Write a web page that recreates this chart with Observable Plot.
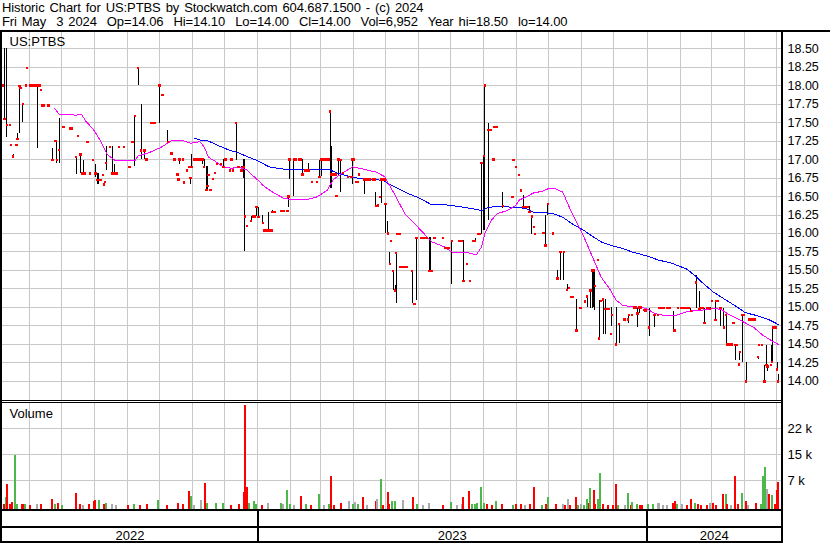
<!DOCTYPE html>
<html><head><meta charset="utf-8">
<script src="https://cdn.jsdelivr.net/npm/d3@7"></script>
<script src="https://cdn.jsdelivr.net/npm/@observablehq/plot@0.6"></script>
<style>
html,body{margin:0;padding:0;background:#fff;}
#chart{position:relative;width:830px;height:543px;overflow:hidden;font-family:"Liberation Sans",Arial,sans-serif;color:#000;background:#fff;}
.hdr{position:absolute;left:2px;font-size:13px;line-height:14px;white-space:pre;letter-spacing:-0.1px;word-spacing:1.5px;}
.ln{position:absolute;background:#000;}
.pnl{position:absolute;left:0;}
</style></head><body><div id="chart"></div>
<script>
// ---------- DATA ----------
const headerLine1 = "Historic Chart for US:PTBS by Stockwatch.com 604.687.1500 - (c) 2024";
const headerLine2 = "Fri May  3 2024  Op=14.06  Hi=14.10  Lo=14.00  Cl=14.00  Vol=6,952  Year hi=18.50  lo=14.00";
const symbolLabel = "US:PTBS";
const volumeLabel = "Volume";
const yearLabels = ["2022", "2023", "2024"];
const priceTicks = [14.00,14.25,14.50,14.75,15.00,15.25,15.50,15.75,16.00,16.25,16.50,16.75,17.00,17.25,17.50,17.75,18.00,18.25,18.50];
const volumeTicks = [7400, 14800, 22200];

// [date, high, low, close]
const prices2022 = [
["2022-05-07",18.00,18.00,18.00],["2022-05-09",18.50,17.55,17.55],["2022-05-11",18.50,17.30,17.47],
["2022-05-14",17.47,17.47,17.47],["2022-05-15",17.20,17.20,17.20],["2022-05-17",17.07,17.04,17.04],
["2022-05-20",17.20,17.20,17.20],["2022-05-21",17.35,17.28,17.28],["2022-05-23",17.99,17.35,17.99],
["2022-05-24",17.97,17.97,17.97],["2022-05-26",17.75,17.50,17.75],["2022-05-29",18.00,18.00,18.00],
["2022-05-30",18.24,18.24,18.24],["2022-06-02",18.00,18.00,18.00],["2022-06-04",18.00,18.00,18.00],
["2022-06-06",18.00,18.00,18.00],["2022-06-08",18.00,18.00,18.00],["2022-06-09",18.00,17.15,18.00],
["2022-06-10",18.00,18.00,18.00],["2022-06-11",18.00,18.00,18.00],["2022-06-12",17.94,17.94,17.94],
["2022-06-13",17.73,17.73,17.73],["2022-06-15",17.73,17.73,17.73],["2022-06-19",17.73,17.73,17.73],
["2022-06-23",17.15,16.99,16.99],["2022-06-25",17.25,17.25,17.25],["2022-06-26",17.25,17.25,17.25],
["2022-06-27",17.25,16.95,16.99],["2022-06-29",17.56,16.95,17.13],["2022-07-03",17.44,17.44,17.44],
["2022-07-09",17.42,17.42,17.42],["2022-07-11",17.42,17.42,17.42],["2022-07-15",17.03,16.80,17.03],
["2022-07-17",17.32,17.32,17.32],["2022-07-19",17.07,16.81,17.07],["2022-07-21",16.81,16.81,16.81],
["2022-07-22",16.99,16.81,16.81],["2022-07-23",16.81,16.81,16.81],["2022-07-25",17.24,17.24,17.24],
["2022-07-26",17.24,17.24,17.24],["2022-07-28",16.81,16.81,16.81],["2022-07-31",16.99,16.99,16.99],
["2022-08-02",16.93,16.76,16.81],["2022-08-04",16.81,16.66,16.72],["2022-08-05",16.81,16.66,16.72],
["2022-08-07",16.72,16.72,16.72],["2022-08-09",16.79,16.79,16.79],["2022-08-10",16.66,16.66,16.66],
["2022-08-11",16.70,16.70,16.70],["2022-08-12",17.17,16.85,16.95],["2022-08-16",17.17,17.17,17.17],
["2022-08-18",17.17,16.81,16.81],["2022-08-20",16.93,16.81,16.81],["2022-08-22",16.81,16.81,16.81],
["2022-08-24",17.17,17.17,17.17],["2022-08-29",17.17,17.17,17.17],["2022-09-03",16.90,16.90,16.90],
["2022-09-06",17.24,17.24,17.24],["2022-09-08",17.59,16.90,17.59],["2022-09-11",18.24,18.00,18.24],
["2022-09-14",17.75,17.00,17.12],["2022-09-17",17.12,17.00,17.12],["2022-09-19",17.00,17.00,17.00],
["2022-09-23",17.49,17.49,17.49],["2022-09-25",17.49,17.49,17.49],["2022-09-27",17.49,17.49,17.49],
["2022-10-01",18.00,17.49,18.00],["2022-10-04",17.87,17.87,17.87],["2022-10-09",17.39,17.24,17.24],
["2022-10-12",17.08,17.08,17.08],["2022-10-13",17.08,17.08,17.08],["2022-10-15",17.00,17.00,17.00],
["2022-10-18",16.80,16.80,16.80],["2022-10-19",16.73,16.73,16.73],["2022-10-20",17.00,16.93,17.00],
["2022-10-23",17.00,17.00,17.00],["2022-10-24",16.70,16.66,16.69],["2022-10-27",16.85,16.85,16.85],
["2022-10-29",16.90,16.90,16.90],["2022-10-30",16.75,16.66,16.75],["2022-10-31",17.07,16.90,16.90],
["2022-11-03",17.00,17.00,17.00],["2022-11-05",17.00,17.00,17.00],["2022-11-07",17.00,17.00,17.00],
["2022-11-09",17.00,17.00,17.00],["2022-11-10",17.00,16.93,17.00],["2022-11-11",17.00,17.00,17.00],
["2022-11-12",17.00,16.90,16.90],["2022-11-14",16.90,16.59,16.59],["2022-11-15",16.90,16.59,16.64],
["2022-11-16",16.79,16.79,16.79],["2022-11-18",16.59,16.59,16.59],["2022-11-20",16.74,16.74,16.74],
["2022-11-22",16.82,16.82,16.82],["2022-11-24",16.94,16.94,16.94],["2022-11-28",16.94,16.94,16.94],
["2022-11-30",17.00,16.90,16.90],["2022-12-02",17.00,17.00,17.00],["2022-12-06",16.85,16.85,16.85],
["2022-12-07",17.00,17.00,17.00],["2022-12-08",17.00,17.00,17.00],["2022-12-09",16.85,16.85,16.85],
["2022-12-12",17.49,16.99,17.49],["2022-12-14",16.90,16.90,16.90],["2022-12-17",16.90,16.85,16.85],
["2022-12-19",17.00,16.75,16.90],["2022-12-20",17.00,15.75,16.23],["2022-12-22",16.10,16.10,16.10],
["2022-12-26",16.23,16.17,16.17],["2022-12-28",16.23,16.23,16.23],["2022-12-29",16.23,16.23,16.23],
["2022-12-31",16.36,16.23,16.36]
];
const prices2023 = [
["2023-01-02",16.35,16.22,16.22],["2023-01-06",16.25,16.14,16.14],["2023-01-07",16.04,16.04,16.04],
["2023-01-09",16.04,16.04,16.04],["2023-01-11",16.29,16.04,16.04],["2023-01-13",16.04,16.04,16.04],
["2023-01-14",16.04,16.04,16.04],["2023-01-15",16.31,16.29,16.29],["2023-01-17",16.29,16.29,16.29],
["2023-01-23",16.30,16.30,16.30],["2023-01-25",16.30,16.30,16.30],["2023-01-26",16.30,16.30,16.30],
["2023-01-29",16.30,16.30,16.30],["2023-01-30",16.50,16.35,16.50],["2023-01-31",17.00,16.73,17.00],
["2023-02-04",17.00,16.50,17.00],["2023-02-06",17.00,17.00,17.00],["2023-02-09",17.00,17.00,17.00],
["2023-02-11",17.00,17.00,17.00],["2023-02-12",17.00,16.80,16.80],["2023-02-15",16.85,16.85,16.85],
["2023-02-17",16.85,16.85,16.85],["2023-02-18",16.95,16.85,16.85],["2023-02-21",16.70,16.70,16.70],
["2023-02-26",16.70,16.70,16.70],["2023-02-28",16.99,16.76,16.76],["2023-03-02",17.00,16.77,17.00],
["2023-03-03",17.00,17.00,17.00],["2023-03-05",17.00,17.00,17.00],["2023-03-07",17.00,17.00,17.00],
["2023-03-09",17.00,17.00,17.00],["2023-03-10",17.65,16.61,17.65],["2023-03-11",17.18,16.61,16.80],
["2023-03-13",16.80,16.80,16.80],["2023-03-15",16.80,16.80,16.80],["2023-03-16",16.51,16.51,16.51],
["2023-03-18",17.00,16.79,17.00],["2023-03-20",17.00,16.55,16.99],["2023-03-22",16.82,16.82,16.82],
["2023-03-27",16.76,16.76,16.76],["2023-03-30",16.76,16.76,16.76],["2023-03-31",17.00,16.66,17.00],
["2023-04-01",17.00,17.00,17.00],["2023-04-03",16.70,16.70,16.70],["2023-04-05",16.70,16.70,16.70],
["2023-04-06",16.80,16.80,16.80],["2023-04-11",16.73,16.53,16.73],["2023-04-12",16.73,16.73,16.73],
["2023-04-14",16.73,16.73,16.73],["2023-04-16",16.73,16.73,16.73],["2023-04-19",16.73,16.73,16.73],
["2023-04-21",16.73,16.73,16.73],["2023-04-22",16.56,16.37,16.37],["2023-04-24",16.38,16.38,16.38],
["2023-04-26",16.49,16.49,16.49],["2023-04-27",16.73,16.40,16.73],["2023-04-30",16.73,16.73,16.73],
["2023-05-01",16.40,16.00,16.40],["2023-05-03",16.16,16.00,16.00],["2023-05-05",15.74,15.59,15.59],
["2023-05-06",15.90,15.90,15.90],["2023-05-08",15.49,15.23,15.49],["2023-05-10",15.30,15.23,15.23],
["2023-05-11",15.74,15.05,15.74],["2023-05-12",15.99,15.99,15.99],["2023-05-14",15.99,15.99,15.99],
["2023-05-15",15.55,15.55,15.55],["2023-05-17",15.55,15.55,15.55],["2023-05-19",15.55,15.55,15.55],
["2023-05-21",15.55,15.55,15.55],["2023-05-26",15.49,15.05,15.49],["2023-05-28",15.05,15.05,15.05],
["2023-05-30",15.94,15.10,15.94],["2023-06-03",15.94,15.94,15.94],["2023-06-05",15.94,15.94,15.94],
["2023-06-07",15.94,15.94,15.94],["2023-06-09",15.94,15.94,15.94],["2023-06-11",15.94,15.49,15.49],
["2023-06-12",15.94,15.49,15.49],["2023-06-13",15.49,15.49,15.49],["2023-06-16",15.94,15.94,15.94],
["2023-06-24",15.94,15.94,15.94],["2023-06-26",15.80,15.80,15.80],["2023-06-29",15.80,15.80,15.80],
["2023-07-02",15.90,15.31,15.90],["2023-07-09",15.90,15.90,15.90],["2023-07-11",15.90,15.90,15.90],
["2023-07-13",15.90,15.36,15.36],["2023-07-16",15.59,15.59,15.59],["2023-07-19",15.36,15.36,15.36],
["2023-07-22",15.90,15.90,15.90],["2023-07-24",15.93,15.90,15.90],["2023-07-27",15.99,15.99,15.99],
["2023-07-28",15.99,15.99,15.99],["2023-07-30",16.95,15.99,16.95],["2023-08-01",17.05,16.04,17.05],
["2023-08-02",18.00,16.04,18.00],["2023-08-05",17.49,16.17,17.40],["2023-08-06",17.40,17.40,17.40],
["2023-08-08",17.40,17.40,17.40],["2023-08-10",17.00,17.00,17.00],["2023-08-11",17.44,17.44,17.44],
["2023-08-13",17.44,17.44,17.44],["2023-08-19",16.56,16.34,16.37],["2023-08-28",16.49,16.49,16.49],
["2023-08-29",16.99,16.99,16.99],["2023-08-31",16.90,16.90,16.90],["2023-09-03",16.79,16.79,16.79],
["2023-09-05",16.58,16.58,16.58],["2023-09-07",16.52,16.36,16.36],["2023-09-09",16.36,16.36,16.36],
["2023-09-11",16.36,16.36,16.36],["2023-09-13",16.36,16.29,16.29],["2023-09-15",16.23,15.99,16.23],
["2023-09-17",16.09,16.09,16.09],["2023-09-18",15.99,15.99,15.99],["2023-09-26",16.01,16.01,16.01],
["2023-09-28",16.25,15.84,15.84],["2023-09-30",16.40,16.25,16.40],["2023-10-05",16.00,16.00,16.00],
["2023-10-09",15.50,15.39,15.39],["2023-10-12",15.75,15.36,15.75],["2023-10-15",15.75,15.36,15.75],
["2023-10-18",15.31,15.24,15.24],["2023-10-20",15.26,15.26,15.26],["2023-10-22",15.14,15.14,15.14],
["2023-10-23",15.14,15.14,15.14],["2023-10-27",15.11,14.69,14.69],["2023-10-30",14.99,14.99,14.99],
["2023-10-31",14.99,14.99,14.99],["2023-11-04",15.08,15.08,15.08],["2023-11-06",15.15,15.00,15.15],
["2023-11-09",15.23,14.99,15.23],["2023-11-11",15.50,14.98,15.50],["2023-11-12",15.50,15.00,15.50],
["2023-11-13",15.50,14.96,15.29],["2023-11-16",15.64,15.64,15.64],["2023-11-17",15.10,14.58,14.58],
["2023-11-19",15.09,15.09,15.09],["2023-11-21",15.11,14.64,15.11],["2023-11-23",15.11,14.64,14.98],
["2023-11-26",14.98,14.98,14.98],["2023-11-28",14.64,14.64,14.64],["2023-11-29",15.00,14.74,14.90],
["2023-12-03",15.00,14.50,14.50],["2023-12-06",14.78,14.51,14.78],["2023-12-11",14.84,14.84,14.84],
["2023-12-14",14.84,14.84,14.84],["2023-12-15",14.90,14.78,14.90],["2023-12-18",14.90,14.90,14.90],
["2023-12-20",15.00,15.00,15.00],["2023-12-21",15.00,15.00,15.00],["2023-12-23",15.00,14.73,14.92],
["2023-12-25",15.00,14.92,15.00],["2023-12-26",15.00,15.00,15.00],["2023-12-29",14.97,14.97,14.97],
["2023-12-30",14.96,14.96,14.96],["2023-12-31",14.96,14.96,14.96]
];
const prices2024 = [
["2024-01-03",14.99,14.61,14.73],["2024-01-08",14.90,14.73,14.90],["2024-01-11",14.90,14.90,14.90],
["2024-01-12",14.99,14.99,14.99],["2024-01-14",14.99,14.99,14.99],["2024-01-15",14.99,14.99,14.99],
["2024-01-17",14.99,14.99,14.99],["2024-01-20",14.99,14.99,14.99],["2024-01-22",14.99,14.99,14.99],
["2024-01-26",14.95,14.69,14.69],["2024-01-27",14.69,14.69,14.69],["2024-01-30",14.99,14.99,14.99],
["2024-02-02",14.99,14.99,14.99],["2024-02-04",14.99,14.99,14.99],["2024-02-06",14.99,14.99,14.99],
["2024-02-09",14.99,14.99,14.99],["2024-02-11",14.98,14.95,14.95],["2024-02-16",15.43,14.98,15.34],
["2024-02-19",15.21,14.98,14.98],["2024-02-20",14.99,14.99,14.99],["2024-02-22",14.99,14.99,14.99],
["2024-02-24",14.99,14.79,14.79],["2024-02-26",14.99,14.99,14.99],["2024-02-28",14.99,14.99,14.99],
["2024-02-29",15.00,14.98,14.98],["2024-03-02",15.09,15.09,15.09],["2024-03-05",15.09,14.83,14.83],
["2024-03-06",15.09,15.09,15.09],["2024-03-07",15.09,15.09,15.09],["2024-03-10",14.99,14.74,14.99],
["2024-03-13",14.99,14.73,14.73],["2024-03-15",14.90,14.50,14.90],["2024-03-16",14.50,14.50,14.50],
["2024-03-18",14.50,14.50,14.50],["2024-03-20",14.50,14.50,14.50],["2024-03-22",14.79,14.79,14.79],
["2024-03-24",14.49,14.28,14.49],["2024-03-25",14.49,14.49,14.49],["2024-03-27",14.23,14.23,14.23],
["2024-03-28",14.40,14.28,14.40],["2024-03-30",14.90,14.26,14.90],["2024-04-01",14.90,14.90,14.90],
["2024-04-03",14.26,14.00,14.00],["2024-04-06",14.84,14.84,14.84],["2024-04-08",14.84,14.84,14.84],
["2024-04-09",14.84,14.84,14.84],["2024-04-11",14.84,14.84,14.84],["2024-04-14",14.33,14.30,14.33],
["2024-04-15",14.49,14.49,14.49],["2024-04-18",14.49,14.49,14.49],["2024-04-20",14.22,14.00,14.00],
["2024-04-22",14.49,14.22,14.22],["2024-04-23",14.22,14.13,14.20],["2024-04-26",14.22,14.22,14.22],
["2024-04-27",14.49,14.26,14.26],["2024-04-28",14.73,14.26,14.73],["2024-04-29",14.73,14.73,14.73],
["2024-04-30",14.73,14.73,14.73],["2024-05-01",14.73,14.73,14.73],["2024-05-02",14.26,14.16,14.16],
["2024-05-03",14.10,14.00,14.00]
];

// short moving average (magenta) [date, value]
const maShort = [
["2022-06-25",17.69],["2022-06-29",17.61],["2022-07-15",17.60],["2022-07-20",17.61],["2022-07-24",17.52],
["2022-07-31",17.41],["2022-08-07",17.25],["2022-08-13",17.07],["2022-08-21",16.98],["2022-09-02",16.98],
["2022-09-08",16.98],["2022-09-11",17.05],["2022-09-21",17.09],["2022-10-02",17.16],["2022-10-12",17.25],
["2022-10-22",17.26],["2022-10-30",17.22],["2022-11-08",17.24],["2022-11-12",17.17],["2022-11-16",17.03],
["2022-11-23",16.97],["2022-11-30",16.90],["2022-12-08",16.88],["2022-12-14",16.90],["2022-12-22",16.86],
["2022-12-27",16.79],["2023-01-03",16.70],["2023-01-06",16.65],["2023-01-15",16.56],["2023-01-25",16.48],
["2023-01-31",16.46],["2023-02-16",16.46],["2023-02-25",16.49],["2023-03-07",16.58],["2023-03-13",16.73],
["2023-03-22",16.82],["2023-03-31",16.90],["2023-04-10",16.87],["2023-04-22",16.83],["2023-04-30",16.77],
["2023-05-09",16.54],["2023-05-19",16.27],["2023-05-31",16.09],["2023-06-13",15.89],["2023-06-25",15.82],
["2023-07-02",15.75],["2023-07-17",15.74],["2023-07-25",15.71],["2023-07-30",15.82],["2023-08-02",16.00],
["2023-08-08",16.18],["2023-08-14",16.27],["2023-08-23",16.31],["2023-08-31",16.38],["2023-09-03",16.45],
["2023-09-09",16.49],["2023-09-17",16.55],["2023-09-25",16.57],["2023-10-01",16.61],["2023-10-06",16.61],
["2023-10-14",16.56],["2023-10-20",16.36],["2023-10-26",16.18],["2023-11-03",15.95],["2023-11-11",15.68],
["2023-11-19",15.41],["2023-11-27",15.25],["2023-12-03",15.10],["2023-12-09",15.03],["2023-12-18",15.01],
["2023-12-31",14.99],["2024-01-08",14.92],["2024-01-18",14.89],["2024-01-27",14.89],["2024-02-07",14.94],
["2024-02-16",14.96],["2024-02-26",14.97],["2024-03-03",14.99],["2024-03-11",14.97],["2024-03-17",14.91],
["2024-03-28",14.83],["2024-04-10",14.73],["2024-04-19",14.62],["2024-04-27",14.55],["2024-05-03",14.50]
];
// long moving average (blue) [date, value]
const maLong = [
["2022-11-03",17.29],["2022-11-09",17.26],["2022-11-16",17.25],["2022-11-25",17.19],["2022-12-05",17.13],
["2022-12-14",17.09],["2022-12-24",17.03],["2022-12-31",16.99],["2023-01-12",16.90],["2023-01-21",16.88],
["2023-01-31",16.86],["2023-02-16",16.87],["2023-02-28",16.86],["2023-03-10",16.86],["2023-03-16",16.82],
["2023-03-28",16.77],["2023-04-04",16.75],["2023-04-16",16.73],["2023-04-28",16.72],["2023-05-12",16.61],
["2023-05-22",16.54],["2023-05-31",16.49],["2023-06-13",16.39],["2023-06-25",16.39],["2023-07-11",16.36],
["2023-07-23",16.33],["2023-07-30",16.31],["2023-08-05",16.35],["2023-08-14",16.37],["2023-08-23",16.36],
["2023-09-01",16.35],["2023-09-09",16.34],["2023-09-16",16.29],["2023-09-27",16.28],["2023-10-05",16.27],
["2023-10-14",16.22],["2023-10-23",16.13],["2023-11-02",16.05],["2023-11-11",15.96],["2023-11-20",15.88],
["2023-11-30",15.83],["2023-12-09",15.80],["2023-12-18",15.75],["2023-12-31",15.70],["2024-01-12",15.64],
["2024-01-24",15.60],["2024-02-07",15.52],["2024-02-15",15.43],["2024-02-23",15.32],["2024-03-03",15.21],
["2024-03-15",15.10],["2024-03-25",15.01],["2024-04-02",14.93],["2024-04-13",14.89],["2024-04-25",14.83],
["2024-05-03",14.77]
];

// [date, shares, direction]
const volume2022 = [
["2022-05-08",500,"down"],["2022-05-10",2600,"up"],["2022-05-11",6300,"down"],["2022-05-14",500,"down"],
["2022-05-16",1100,"down"],["2022-05-19",14600,"up"],["2022-05-21",400,"up"],["2022-05-25",400,"down"],
["2022-05-26",600,"down"],["2022-05-28",600,"up"],["2022-06-02",200,"down"],["2022-06-08",600,"flat"],
["2022-06-12",400,"down"],["2022-06-22",2000,"down"],["2022-06-25",400,"up"],["2022-06-28",800,"down"],
["2022-07-02",200,"up"],["2022-07-15",3600,"down"],["2022-07-19",600,"down"],["2022-07-21",200,"flat"],
["2022-07-27",500,"down"],["2022-08-01",1500,"down"],["2022-08-02",1600,"down"],["2022-08-05",1600,"up"],
["2022-08-10",400,"down"],["2022-08-12",800,"up"],["2022-08-18",400,"flat"],["2022-08-21",200,"flat"],
["2022-09-02",200,"down"],["2022-09-07",400,"up"],["2022-09-13",200,"down"],["2022-09-19",600,"down"],
["2022-09-30",1600,"up"],["2022-10-08",200,"down"],["2022-10-18",700,"down"],["2022-10-23",400,"down"],
["2022-10-29",4300,"down"],["2022-10-31",2700,"up"],["2022-11-02",200,"flat"],["2022-11-09",1600,"flat"],
["2022-11-13",6500,"down"],["2022-11-15",700,"up"],["2022-11-23",800,"up"],["2022-11-30",800,"up"],
["2022-12-07",200,"down"],["2022-12-15",400,"down"],["2022-12-19",4100,"down"],["2022-12-20",28900,"down"],
["2022-12-22",5300,"down"],["2022-12-24",800,"up"],["2022-12-29",1300,"up"],["2022-12-31",600,"up"]
];
const volume2023 = [
["2023-01-05",200,"down"],["2023-01-11",700,"flat"],["2023-01-23",800,"up"],["2023-01-25",500,"flat"],
["2023-01-29",4600,"up"],["2023-01-31",400,"up"],["2023-02-04",200,"flat"],["2023-02-11",2900,"down"],
["2023-02-15",400,"up"],["2023-02-20",200,"down"],["2023-02-28",3400,"up"],["2023-03-04",200,"flat"],
["2023-03-09",400,"up"],["2023-03-11",8600,"down"],["2023-03-14",200,"down"],["2023-03-20",800,"down"],
["2023-03-28",1500,"flat"],["2023-03-31",600,"up"],["2023-04-02",1200,"flat"],["2023-04-05",600,"up"],
["2023-04-10",2400,"down"],["2023-04-14",200,"flat"],["2023-04-22",1400,"down"],["2023-04-23",1900,"flat"],
["2023-04-27",7600,"up"],["2023-04-29",200,"down"],["2023-05-03",4000,"down"],["2023-05-04",600,"down"],
["2023-05-07",1400,"up"],["2023-05-10",1400,"up"],["2023-05-17",1600,"flat"],["2023-05-27",2500,"down"],
["2023-05-30",600,"up"],["2023-06-05",200,"flat"],["2023-06-11",700,"flat"],["2023-06-24",200,"down"],
["2023-07-01",1100,"up"],["2023-07-07",200,"flat"],["2023-07-12",600,"flat"],["2023-07-13",2400,"down"],
["2023-07-18",4300,"down"],["2023-07-21",400,"up"],["2023-07-24",500,"up"],["2023-07-26",700,"up"],
["2023-07-29",5400,"up"],["2023-08-01",700,"up"],["2023-08-04",400,"down"],["2023-08-09",200,"down"],
["2023-08-12",1400,"up"],["2023-08-18",500,"down"],["2023-08-28",200,"up"],["2023-08-31",400,"down"],
["2023-09-05",400,"down"],["2023-09-09",200,"flat"],["2023-09-13",400,"down"],["2023-09-17",5400,"down"],
["2023-09-25",200,"up"],["2023-09-28",600,"down"],["2023-09-30",2400,"up"],["2023-10-08",400,"down"],
["2023-10-14",400,"flat"],["2023-10-16",200,"down"],["2023-10-19",2000,"flat"],["2023-10-21",200,"down"],
["2023-10-26",2400,"down"],["2023-10-28",200,"up"],["2023-10-31",600,"flat"],["2023-11-03",200,"up"],
["2023-11-06",2000,"up"],["2023-11-08",800,"down"],["2023-11-09",5100,"up"],["2023-11-12",4600,"down"],
["2023-11-13",600,"down"],["2023-11-16",2100,"up"],["2023-11-18",9400,"up"],["2023-11-21",400,"down"],
["2023-11-25",200,"down"],["2023-11-30",200,"down"],["2023-12-03",6300,"down"],["2023-12-05",200,"up"],
["2023-12-11",200,"flat"],["2023-12-14",3800,"up"],["2023-12-17",200,"down"],["2023-12-18",1200,"up"],
["2023-12-23",600,"up"],["2023-12-25",200,"down"],["2023-12-27",200,"down"]
];
const volume2024 = [
["2024-01-02",600,"up"],["2024-01-07",400,"up"],["2024-01-11",700,"flat"],["2024-01-12",700,"flat"],
["2024-01-16",200,"flat"],["2024-01-20",200,"flat"],["2024-01-25",900,"down"],["2024-01-27",1300,"down"],
["2024-01-29",600,"up"],["2024-02-03",400,"flat"],["2024-02-07",200,"down"],["2024-02-11",2000,"down"],
["2024-02-15",900,"up"],["2024-02-18",600,"down"],["2024-02-21",200,"down"],["2024-02-26",200,"down"],
["2024-02-29",900,"flat"],["2024-03-03",700,"down"],["2024-03-06",200,"down"],["2024-03-12",3400,"down"],
["2024-03-15",3400,"up"],["2024-03-16",500,"down"],["2024-03-20",200,"flat"],["2024-03-23",8600,"down"],
["2024-03-26",600,"down"],["2024-03-30",3600,"up"],["2024-04-03",1400,"down"],["2024-04-05",200,"flat"],
["2024-04-12",800,"down"],["2024-04-17",600,"up"],["2024-04-19",8600,"up"],["2024-04-21",11100,"up"],
["2024-04-22",4800,"flat"],["2024-04-24",3300,"down"],["2024-04-27",3000,"up"],["2024-04-30",600,"down"],
["2024-05-01",200,"down"],["2024-05-02",4600,"down"],["2024-05-03",6952,"down"]
];

// ---------- BUILD ----------
const W = 830;
const X0 = new Date("2022-05-07"), X1 = new Date("2024-05-06");
const xOpt = {type: "utc", domain: [X0, X1], axis: null};
const gridColor = "#c8c8c8";
const svgStyle = {fontFamily: "'Liberation Sans', Arial, sans-serif", fontSize: "13px",
  shapeRendering: "crispEdges", background: "transparent", overflow: "visible"};
const common = {width: W, marginLeft: 2, marginRight: 49, marginTop: 0, marginBottom: 0, style: svgStyle};

const bars = [...prices2022, ...prices2023, ...prices2024]
  .map(([d, h, l, c]) => ({date: new Date(d), high: h, low: l, close: c}));
const shortRows = maShort.map(([d, v]) => ({date: new Date(d), value: v}));
const longRows = maLong.map(([d, v]) => ({date: new Date(d), value: v}));
const vols = [...volume2022, ...volume2023, ...volume2024]
  .map(([d, v, dir]) => ({date: new Date(d), volume: v, dir}));
const monthLines = d3.utcMonth.range(d3.utcMonth.ceil(X0), X1);
const yearStarts = d3.utcYear.range(d3.utcYear.ceil(X0), X1);
const yearBounds = [X0, ...yearStarts, X1];
const yearRows = yearLabels.map((label, i) => ({label, mid: new Date((+yearBounds[i] + +yearBounds[i + 1]) / 2)}));

const priceChart = Plot.plot({
  ...common, height: 368,
  x: xOpt,
  y: {domain: [13.743, 18.7165], label: null},
  marks: [
    Plot.ruleX(monthLines, {stroke: gridColor}),
    Plot.ruleY(priceTicks, {stroke: gridColor}),
    Plot.ruleX(bars, {x: "date", y1: "low", y2: "high", stroke: "#000", strokeWidth: 1}),
    Plot.line(longRows, {x: "date", y: "value", stroke: "#0000ff", strokeWidth: 1}),
    Plot.line(shortRows, {x: "date", y: "value", stroke: "#ff00ff", strokeWidth: 1}),
    Plot.dot(bars, {x: "date", y: "close", symbol: "square", r: 1.35, fill: "#ff0000"}),
    Plot.axisY({ticks: priceTicks, anchor: "right", tickSize: 0, tickPadding: 6, label: null,
      tickFormat: (d) => d.toFixed(2), fontSize: 12.5}),
    Plot.text([symbolLabel], {text: (d) => d, frameAnchor: "top-left", dx: 7, dy: 4,
      lineAnchor: "top", textAnchor: "start", fontSize: 13})
  ]
});

const volumeChart = Plot.plot({
  ...common, height: 106,
  x: xOpt,
  y: {domain: [-900, 29440], label: null},
  color: {domain: ["up", "down", "flat"], range: ["#4cb84c", "#ff0000", "#aaaaaa"]},
  marks: [
    Plot.ruleX(monthLines, {stroke: gridColor}),
    Plot.ruleY(volumeTicks, {stroke: gridColor}),
    Plot.ruleX(vols, {x: "date", y1: -900, y2: "volume", stroke: "dir", strokeWidth: 2}),
    Plot.axisY({ticks: volumeTicks, anchor: "right", tickSize: 0, tickPadding: 6, label: null,
      tickFormat: (d) => Math.round(d / 1000) + " k", fontSize: 13}),
    Plot.text([volumeLabel], {text: (d) => d, frameAnchor: "top-left", dx: 7, dy: 5,
      lineAnchor: "top", textAnchor: "start", fontSize: 13})
  ]
});

const axisChart = Plot.plot({
  ...common, height: 30,
  x: xOpt,
  marks: [
    Plot.ruleX(yearStarts, {stroke: "#000", strokeWidth: 2}),
    Plot.text(yearRows, {x: "mid", text: "label", frameAnchor: "bottom", lineAnchor: "bottom",
      dy: -2, fontSize: 13})
  ]
});

const root = document.getElementById("chart");
function addHdr(text, top) {
  const d = document.createElement("div");
  d.className = "hdr"; d.style.top = top + "px"; d.textContent = text;
  root.appendChild(d);
}
function addPanel(svg, top) {
  const d = document.createElement("div");
  d.className = "pnl"; d.style.top = top + "px";
  d.appendChild(svg); root.appendChild(d);
}
function addLine(left, top, w, h) {
  const d = document.createElement("div");
  d.className = "ln";
  Object.assign(d.style, {left: left + "px", top: top + "px", width: w + "px", height: h + "px"});
  root.appendChild(d);
}
addHdr(headerLine1, 1);
addHdr(headerLine2, 15);
addPanel(priceChart, 32);
addPanel(volumeChart, 403);
addPanel(axisChart, 511);
addLine(0, 30, 830, 2);
addLine(0, 30, 2, 513);
addLine(781, 30, 2, 513);
addLine(0, 400, 783, 1);
addLine(0, 402, 783, 1);
addLine(0, 509, 783, 2);
addLine(0, 526, 783, 2);
addLine(0, 541, 783, 2);
</script></body></html>
